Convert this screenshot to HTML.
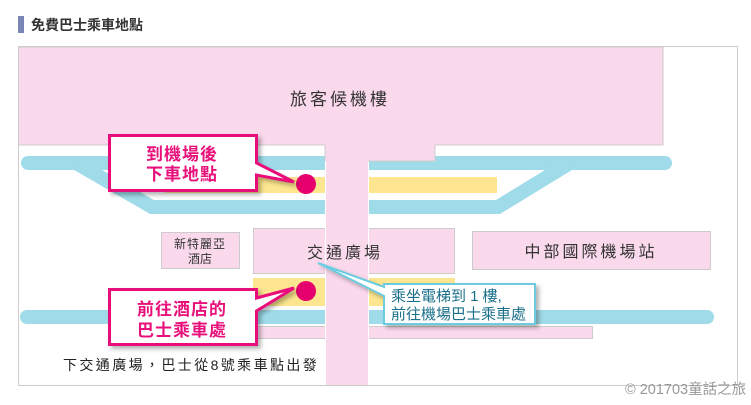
<!DOCTYPE html>
<html><head><meta charset="utf-8"><style>
html,body{margin:0;padding:0;background:#fff;}
body{width:751px;height:400px;overflow:hidden;}
text{font-family:"Liberation Sans","Noto Sans CJK TC",sans-serif;}
</style></head><body>
<svg width="751" height="400" viewBox="0 0 751 400" xmlns="http://www.w3.org/2000/svg">
<defs>
<filter id="sh" x="-10%" y="-10%" width="130%" height="140%"><feDropShadow dx="3" dy="3" stdDeviation="2" flood-color="#000" flood-opacity="0.3"/></filter>
</defs>
<rect x="18" y="16" width="6" height="17" fill="#7a86b8"/>
<text x="31" y="30" font-size="14" font-weight="bold" fill="#333">免費巴士乘車地點</text>
<rect x="18.5" y="46.5" width="719" height="339" fill="#fff" stroke="#ccc"/>
<!-- tracks -->
<line x1="28" y1="163" x2="665" y2="163" stroke="#9fdbe9" stroke-width="14" stroke-linecap="round"/>
<polyline points="76,163 152,207 498,207 570,163" fill="none" stroke="#9fdbe9" stroke-width="14"/>
<rect x="165" y="177" width="332" height="16" fill="#fde68f"/>
<!-- boxes -->
<rect x="161.5" y="232.5" width="78" height="36" fill="#fad9ec" stroke="#ccc"/>
<text x="200" y="248" font-size="12" fill="#333" text-anchor="middle" letter-spacing="1">新特麗亞</text>
<text x="200" y="263" font-size="12" fill="#333" text-anchor="middle">酒店</text>
<rect x="253.5" y="228.5" width="201" height="45" fill="#fad9ec" stroke="#ccc"/>
<rect x="472.5" y="231.5" width="238" height="38" fill="#fad9ec" stroke="#ccc"/>
<text x="591" y="257" font-size="16" fill="#333" text-anchor="middle" letter-spacing="3">中部國際機場站</text>
<rect x="253" y="278" width="202" height="28" fill="#fde68f"/>
<line x1="27" y1="317" x2="707" y2="317" stroke="#9fdbe9" stroke-width="14" stroke-linecap="round"/>
<rect x="253.5" y="326.5" width="339" height="12" fill="#fad9ec" stroke="#ccc"/>
<!-- column -->
<rect x="326" y="161" width="42" height="224" fill="#fad9ec"/>
<line x1="325.5" y1="161" x2="325.5" y2="385" stroke="#fff"/>
<line x1="368.5" y1="161" x2="368.5" y2="385" stroke="#fff"/>
<!-- terminal -->
<path d="M19 47 H663 V145 H435 V161 H325 V145 H19 Z" fill="#fad9ec"/>
<path d="M19 47 H663 V145 H435 V161" fill="none" stroke="#ccc"/>
<path d="M325 161 V145 H19" fill="none" stroke="#ccc"/>
<path d="M368 161 H435" fill="none" stroke="#ccc"/>
<rect x="326" y="158" width="42" height="6" fill="#fad9ec"/>
<text x="340" y="105" font-size="17" fill="#333" text-anchor="middle" letter-spacing="3">旅客候機樓</text>
<text x="345" y="258" font-size="16" fill="#333" text-anchor="middle" letter-spacing="3">交通廣場</text>
<text x="63" y="370" font-size="14" fill="#222" letter-spacing="2.4">下交通廣場，巴士從8號乘車點出發</text>
<!-- dots -->
<circle cx="306" cy="184" r="10" fill="#e6006e"/>
<circle cx="306" cy="291" r="10" fill="#e6006e"/>
<!-- callout 1 -->
<g filter="url(#sh)">
<path d="M109.5 135.5 H256.5 V163 L294 182 L256.5 175 V190.5 H109.5 Z" fill="#fff" stroke="#e8107a" stroke-width="3"/>
</g>
<text x="182" y="160" font-size="17" font-weight="bold" fill="#e8107a" text-anchor="middle" letter-spacing="1">到機場後</text>
<text x="182" y="180" font-size="17" font-weight="bold" fill="#e8107a" text-anchor="middle" letter-spacing="1">下車地點</text>
<!-- callout 2 -->
<g filter="url(#sh)">
<path d="M109.5 289.5 H256.5 V298 L294 288 L256.5 311 V344.5 H109.5 Z" fill="#fff" stroke="#e8107a" stroke-width="3"/>
</g>
<text x="182" y="315" font-size="17" font-weight="bold" fill="#e8107a" text-anchor="middle" letter-spacing="1">前往酒店的</text>
<text x="182" y="336" font-size="17" font-weight="bold" fill="#e8107a" text-anchor="middle" letter-spacing="1">巴士乘車處</text>
<!-- blue callout -->
<g filter="url(#sh)">
<path d="M384 284 H535 V324 H384 V296 L318 263 L384 287 Z" fill="#fff" stroke="#6ccbe0" stroke-width="2"/>
</g>
<text x="391" y="301" font-size="15" fill="#1a6f8a">乘坐電梯到 1 樓,</text>
<text x="391" y="319" font-size="15" fill="#1a6f8a">前往機場巴士乘車處</text>
<text x="625" y="394" font-size="14.5" fill="#999">© 201703童話之旅</text>
</svg>
</body></html>
